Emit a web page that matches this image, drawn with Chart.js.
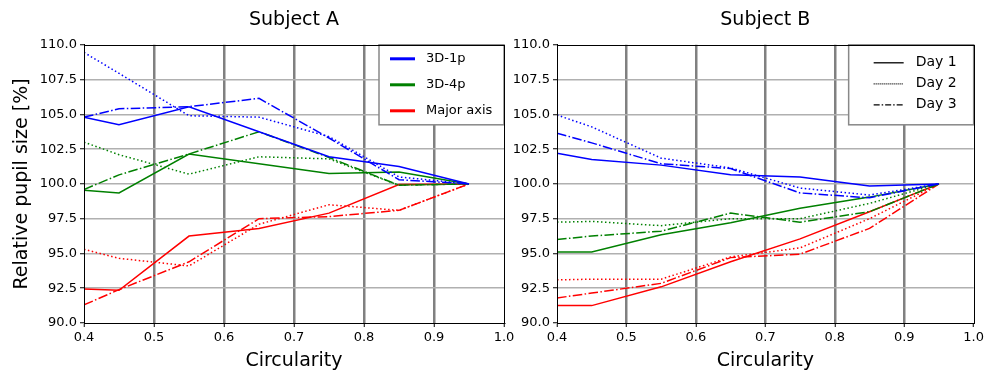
<!DOCTYPE html>
<html>
<head>
<meta charset="utf-8">
<script src="https://cdn.jsdelivr.net/npm/chart.js@4"></script>
<style>
  html, body { margin: 0; padding: 0; background: #fff; overflow: hidden; }
  #wrap { position: relative; width: 987px; height: 377px; }
  canvas { position: absolute; top: 0; }
  #chartA { left: 0; }
  #chartB { left: 505px; }
</style>
</head>
<body>
<div id="wrap">
  <canvas id="chartA" width="520" height="377"></canvas>
  <canvas id="chartB" width="482" height="377"></canvas>
</div>
<script>
// x positions shared by every line
var circularity = [0.4, 0.45, 0.55, 0.65, 0.75, 0.85, 0.95];
var xTicks = [0.4, 0.5, 0.6, 0.7, 0.8, 0.9, 1.0];
var yTicks = [90, 92.5, 95, 97.5, 100, 102.5, 105, 107.5, 110];

var groupNames = ["3D-1p", "3D-4p", "Major axis"];
var dayNames = ["Day 1", "Day 2", "Day 3"];

// Subject A
var a1pDay1 = [104.8, 104.25, 105.55, 103.75, 101.95, 101.25, 100.0];
var a1pDay2 = [109.45, 107.95, 104.9, 104.8, 103.4, 100.5, 100.0];
var a1pDay3 = [104.8, 105.4, 105.55, 106.15, 103.3, 100.3, 100.0];
var a4pDay1 = [99.55, 99.35, 102.15, 101.45, 100.75, 100.85, 100.0];
var a4pDay2 = [103.0, 102.1, 100.7, 101.95, 101.8, 99.9, 100.0];
var a4pDay3 = [99.6, 100.65, 102.15, 103.75, 101.9, 99.9, 100.0];
var aMajDay1 = [92.45, 92.35, 96.25, 96.8, 97.9, 99.95, 100.0];
var aMajDay2 = [95.3, 94.65, 94.1, 97.1, 98.5, 98.1, 100.0];
var aMajDay3 = [91.3, 92.4, 94.4, 97.5, 97.65, 98.1, 100.0];

// Subject B
var b1pDay1 = [102.2, 101.75, 101.35, 100.65, 100.5, 99.85, 100.0];
var b1pDay2 = [104.95, 104.1, 101.85, 101.15, 99.7, 99.2, 100.0];
var b1pDay3 = [103.65, 102.95, 101.45, 101.1, 99.35, 99.0, 100.0];
var b4pDay1 = [95.1, 95.1, 96.35, 97.2, 98.25, 99.05, 100.0];
var b4pDay2 = [97.25, 97.3, 97.0, 97.5, 97.5, 98.6, 100.0];
var b4pDay3 = [96.0, 96.25, 96.6, 97.9, 97.25, 98.0, 100.0];
var bMajDay1 = [91.25, 91.25, 92.6, 94.4, 96.05, 98.0, 100.0];
var bMajDay2 = [93.1, 93.15, 93.15, 94.75, 95.4, 97.5, 100.0];
var bMajDay3 = [91.8, 92.15, 92.85, 94.7, 94.95, 96.8, 100.0];

var colors = ["#0000ff", "#008000", "#ff0000"];
var dashes = [[], [1.5, 2.5], [9.6, 2.4, 1.5, 2.4]];

Chart.defaults.font.family = "'DejaVu Sans', sans-serif";
Chart.defaults.color = "#000";

function isEdge(v, list) {
    return Math.abs(v - list[0]) < 1e-6 || Math.abs(v - list[list.length - 1]) < 1e-6;
}

function buildDatasets(groups) {
    var out = [];
    groups.forEach(function(days, g) {
        days.forEach(function(vals, d) {
            out.push({
                label: groupNames[g] + " " + dayNames[d],
                data: circularity.map(function(x, i) { return {x: x, y: vals[i]}; }),
                borderColor: colors[g],
                borderWidth: 1.5,
                borderDash: dashes[d],
                pointRadius: 0,
                tension: 0,
                fill: false
            });
        });
    });
    return out;
}

// legend box + outer frame drawn over the plot
var framePlugin = {
    id: "frame",
    afterDraw: function(chart, args, opts) {
        var ctx = chart.ctx, a = chart.chartArea;
        var lg = opts.legend;
        if (lg) {
            var left = a.right - lg.width, top = a.top;
            ctx.save();
            ctx.fillStyle = "#fff";
            ctx.fillRect(left, top, lg.width, lg.height);
            ctx.strokeStyle = "#888";
            ctx.lineWidth = 1.5;
            ctx.strokeRect(left, top, lg.width, lg.height);
            ctx.font = lg.fontSize + "px 'DejaVu Sans'";
            ctx.textBaseline = "middle";
            lg.items.forEach(function(it, i) {
                var y = top + lg.rows[i];
                ctx.beginPath();
                ctx.strokeStyle = it.color;
                ctx.lineWidth = lg.lineWidth;
                ctx.setLineDash(it.dash);
                ctx.moveTo(left + lg.lineFrom, y);
                ctx.lineTo(left + lg.lineTo, y);
                ctx.stroke();
                ctx.setLineDash([]);
                ctx.fillStyle = "#000";
                ctx.fillText(it.text, left + lg.textX, y);
            });
            ctx.restore();
        }
        ctx.save();
        ctx.strokeStyle = "#000";
        ctx.lineWidth = 1;
        ctx.strokeRect(Math.round(a.left) + 0.5, Math.round(a.top) + 0.5,
            Math.round(a.right - a.left), Math.round(a.bottom - a.top));
        ctx.restore();
    }
};

function makeChart(id, title, groups, yWidth, padRight, showYTitle, legend) {
    return new Chart(document.getElementById(id), {
        type: "line",
        data: { datasets: buildDatasets(groups) },
        plugins: [framePlugin],
        options: {
            responsive: false,
            animation: false,
            layout: { padding: { left: 0, right: padRight, top: 0, bottom: 0 } },
            plugins: {
                legend: { display: false },
                tooltip: { enabled: false },
                title: {
                    display: true,
                    text: title,
                    fullSize: false,
                    color: "#000",
                    font: { size: 19, weight: "normal" },
                    padding: { top: 9, bottom: 13 }
                },
                frame: { legend: legend }
            },
            scales: {
                x: {
                    type: "linear",
                    min: 0.4,
                    max: 1.0,
                    afterFit: function(s) { s.height = 54; },
                    afterBuildTicks: function(s) { s.ticks = xTicks.map(function(v) { return {value: v}; }); },
                    ticks: {
                        font: { size: 13 },
                        padding: 3,
                        maxRotation: 0,
                        callback: function(v) { return Number(v).toFixed(1); }
                    },
                    grid: {
                        color: function(c) { return c.tick && isEdge(c.tick.value, xTicks) ? "rgba(0,0,0,0)" : "#808080"; },
                        lineWidth: 2.5,
                        tickColor: "#000",
                        tickLength: 4,
                        tickWidth: 1
                    },
                    border: { color: "#000", width: 1 },
                    title: {
                        display: true,
                        text: "Circularity",
                        font: { size: 19 },
                        padding: { top: 0, bottom: 5 }
                    }
                },
                y: {
                    min: 90,
                    max: 110,
                    afterFit: function(s) { s.width = yWidth; },
                    afterBuildTicks: function(s) { s.ticks = yTicks.map(function(v) { return {value: v}; }); },
                    ticks: {
                        font: { size: 13 },
                        padding: 3,
                        callback: function(v) { return Number(v).toFixed(1); }
                    },
                    grid: {
                        color: function(c) { return c.tick && isEdge(c.tick.value, yTicks) ? "rgba(0,0,0,0)" : "#b0b0b0"; },
                        lineWidth: 1.5,
                        tickColor: "#000",
                        tickLength: 4,
                        tickWidth: 1
                    },
                    border: { color: "#000", width: 1 },
                    title: {
                        display: showYTitle,
                        text: "Relative pupil size [%]",
                        font: { size: 19 },
                        padding: { top: 11, bottom: 0 }
                    }
                }
            }
        }
    });
}

document.addEventListener("DOMContentLoaded", function() {
    makeChart("chartA", "Subject A",
        [[a1pDay1, a1pDay2, a1pDay3], [a4pDay1, a4pDay2, a4pDay3], [aMajDay1, aMajDay2, aMajDay3]],
        84, 16, true,
        {
            width: 125, height: 80, lineFrom: 11, lineTo: 36, textX: 47, lineWidth: 3, fontSize: 13,
            rows: [14, 40, 66],
            items: [
                {text: groupNames[0], color: colors[0], dash: []},
                {text: groupNames[1], color: colors[1], dash: []},
                {text: groupNames[2], color: colors[2], dash: []}
            ]
        });
    makeChart("chartB", "Subject B",
        [[b1pDay1, b1pDay2, b1pDay3], [b4pDay1, b4pDay2, b4pDay3], [bMajDay1, bMajDay2, bMajDay3]],
        52, 10, false,
        {
            width: 125, height: 80, lineFrom: 25, lineTo: 55, textX: 67, lineWidth: 1.3, fontSize: 14,
            rows: [18, 39, 60],
            items: [
                {text: dayNames[0], color: "#000", dash: dashes[0]},
                {text: dayNames[1], color: "#000", dash: [1, 1]},
                {text: dayNames[2], color: "#000", dash: [6, 2, 1.5, 2]}
            ]
        });
});
</script>
</body>
</html>
